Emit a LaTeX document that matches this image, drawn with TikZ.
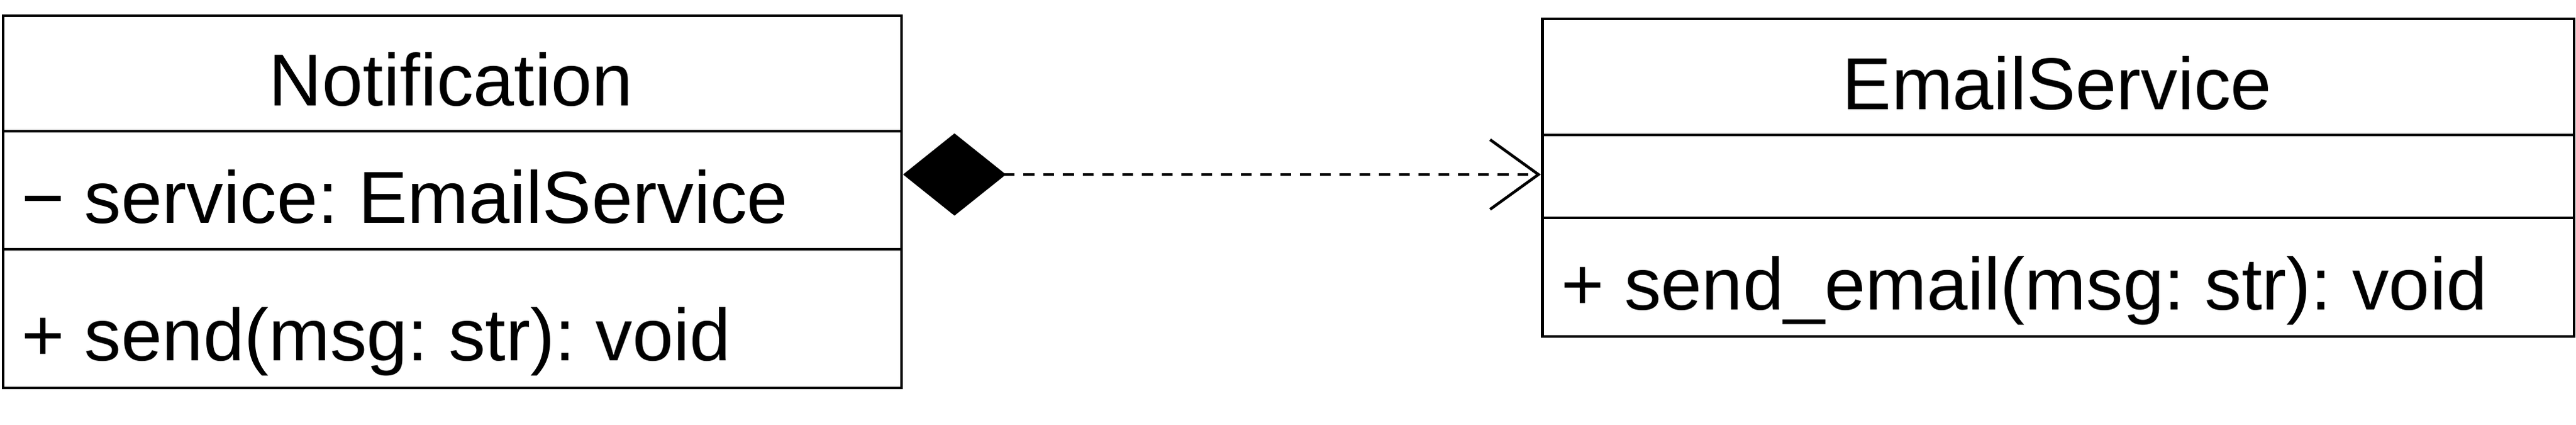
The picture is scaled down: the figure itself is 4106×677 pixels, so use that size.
\documentclass[tikz,border=0pt]{standalone}
\usepackage{fontspec}
\setmainfont{Liberation Sans}
\usetikzlibrary{arrows.meta}
\frenchspacing
\tikzset{
  classbox/.style={draw=black, line width=0.45pt, rectangle, inner sep=0pt, anchor=north west},
  divider/.style={draw=black, line width=0.45pt},
  title/.style={inner sep=0pt, anchor=base, font=\fontsize{11.73}{14}\selectfont},
  member/.style={inner sep=0pt, anchor=base west, font=\fontsize{11.73}{14}\selectfont},
  composition/.style={draw=black, line width=0.45pt, dash pattern=on 1.75pt off 1.4pt,
    {Diamond[length=16.4pt, width=13.1pt, fill=black]}-{Straight Barb[length=7.7pt, width=11.1pt, line width=0.45pt]}}
}
\begin{document}
\begin{tikzpicture}[x=0.1pt, y=-0.1pt]
\useasboundingbox (0,0) rectangle (4106,677);
% Notification class
\node[classbox, minimum width=143.2pt, minimum height=59.3pt] (notif) at (3,23) {};
\draw[divider] (notif.west |- 0,209) -- (notif.east |- 0,209);
\draw[divider] (notif.west |- 0,397) -- (notif.east |- 0,397);
\node[title] (notiftitle) at (719,169) {Notification};
\node[member] (notifattr) at (32,356) {− service: EmailService};
\node[member] (notifop) at (32,574) {+ send(msg: str): void};
% EmailService class
\node[classbox, minimum width=164.5pt, minimum height=50.6pt] (email) at (2456,28) {};
\draw[divider] (email.west |- 0,215) -- (email.east |- 0,215);
\draw[divider] (email.west |- 0,347) -- (email.east |- 0,347);
\node[title] (emailtitle) at (3279,175) {EmailService};
\node[member] (emailop) at (2486,494) {+ send\_email(msg: str): void};
% connector
\coordinate (rel) at (0,278);
\draw[composition] (notif.east |- rel) -- (email.west |- rel);
\end{tikzpicture}
\end{document}
